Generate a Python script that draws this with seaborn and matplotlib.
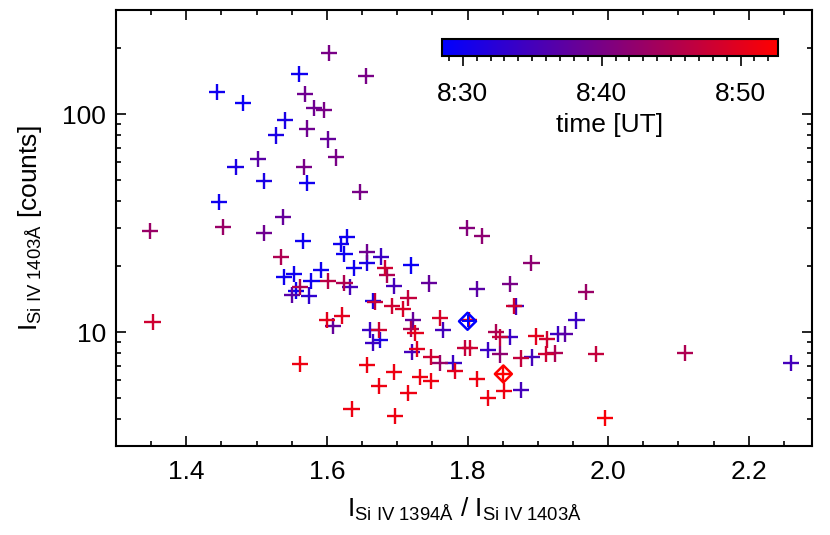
import numpy as np
import pandas as pd
import matplotlib
matplotlib.use('Agg')
import matplotlib.pyplot as plt
import matplotlib.ticker as mticker
from matplotlib.colors import LinearSegmentedColormap, Normalize
from matplotlib.cm import ScalarMappable
import seaborn as sns

# Cociente de lineas Si IV 1394/1403
ratio = [1.603, 1.561, 1.655, 1.444, 1.569, 1.481, 1.582, 1.596, 1.541, 1.572,
         1.527, 1.601, 1.613, 1.502, 1.470, 1.568, 1.510, 1.572, 1.647, 1.447,
         1.538, 1.452, 1.348, 1.511, 1.566, 1.628, 1.620, 1.535, 1.625, 1.657,
         1.677, 1.657, 1.683, 1.638, 1.719, 1.799, 1.821, 1.891, 1.685, 1.591,
         1.539, 1.553, 1.578, 1.601, 1.625, 1.562, 1.633, 1.556, 1.550, 1.575,
         1.695, 1.745, 1.814, 1.861, 1.969, 1.666, 1.669, 1.716, 1.693, 1.708,
         1.866, 1.869, 1.352, 1.600, 1.622, 1.609, 1.723, 1.761, 1.802, 1.955,
         1.939, 1.662, 1.674, 1.665, 1.676, 1.720, 1.726, 1.765, 1.841, 1.846,
         1.861, 1.898, 1.913, 1.929, 1.721, 1.728, 1.748, 1.761, 1.780, 1.782,
         1.797, 1.804, 1.829, 1.846, 1.876, 1.892, 1.912, 1.925, 1.983, 2.109,
         2.260, 1.562, 1.657, 1.695, 1.733, 1.748, 1.813, 1.674, 1.716, 1.852,
         1.876, 1.829, 1.635, 1.697, 1.996, 1.850]

# Intensidad Si IV 1403 [counts]
intensity = [191, 153, 150, 126, 124, 112, 106.5, 104, 93.4, 85.8,
             79.7, 76.4, 63.2, 61.9, 56.9, 56.9, 49.1, 48.1, 43.7, 39.4,
             33.6, 30.4, 29.0, 28.4, 26.2, 27.2, 25.3, 22.0, 22.7, 23.2,
             22.2, 20.7, 19.6, 19.7, 20.2, 29.9, 27.5, 20.7, 18.2, 19.2,
             17.9, 18.4, 17.2, 17.2, 16.8, 16.1, 16.1, 15.5, 14.8, 14.7,
             16.2, 16.7, 15.7, 16.6, 15.2, 13.9, 13.8, 14.3, 13.2, 12.8,
             13.2, 13.1, 11.1, 11.4, 11.9, 10.65, 11.4, 11.6, 11.4, 11.3,
             9.76, 10.2, 10.2, 8.95, 9.19, 10.3, 9.9, 10.2, 10.0, 9.44,
             9.49, 9.54, 9.24, 9.79, 8.13, 8.32, 7.68, 7.21, 7.21, 6.63,
             8.42, 8.42, 8.27, 7.89, 7.56, 7.64, 7.95, 7.97, 7.91, 8.02,
             7.19, 7.14, 7.03, 6.53, 6.22, 5.95, 6.11, 5.66, 5.26, 5.38,
             5.43, 4.96, 4.43, 4.13, 4.04, 6.42]

# Minutos despues de las 8:00 UT
time_min = [40, 30, 40, 30, 39, 29.5, 39, 40, 31, 39,
            31, 38, 40, 37, 31, 40, 31, 30, 40, 30,
            38, 43, 43, 39, 30, 30, 30, 45, 30, 39,
            34, 31, 48, 30, 29.5, 41, 42, 42, 45, 30,
            30, 30, 30, 46, 45, 45, 35, 30, 37, 33,
            35, 38, 37, 40, 43, 31, 47, 47, 48, 49,
            48, 35, 48, 50, 50, 38, 38, 49, 50, 34,
            37, 34, 48, 34, 31, 45, 50, 35, 45, 47,
            34, 50, 48, 34, 35, 50, 48, 43, 34, 50,
            47, 48, 34, 42, 47, 35, 48, 45, 47, 45,
            35, 51, 51, 51, 51, 51, 51, 51, 51, 51,
            35, 51, 51, 51, 52, 51]

# Puntos seleccionados (rombos)
sel_ratio = [1.800, 1.851]
sel_intensity = [11.2, 6.42]
sel_colors = ['#0000ff', '#ff0000']

t_lo, t_hi = 28.5, 52.7
cb_ticks = [30, 40, 50]
cb_labels = ['8:30', '8:40', '8:50']

sns.set_style('ticks')
plt.rcParams['font.family'] = ['Liberation Sans', 'DejaVu Sans']
plt.rcParams['mathtext.fontset'] = 'custom'
plt.rcParams['mathtext.rm'] = 'Liberation Sans'
plt.rcParams['mathtext.it'] = 'Liberation Sans:italic'
plt.rcParams['text.color'] = 'black'
plt.rcParams['axes.labelcolor'] = 'black'
plt.rcParams['xtick.color'] = 'black'
plt.rcParams['ytick.color'] = 'black'
plt.rcParams['axes.edgecolor'] = 'black'

df = pd.DataFrame({'ratio': ratio, 'intensity': intensity, 'time': time_min})
df = df.sort_values('time', kind='stable')

cmap = LinearSegmentedColormap.from_list('blue_red', ['#0000ff', '#ff0000'])

fig = plt.figure(figsize=(8.3, 5.35), dpi=100)
ax = fig.add_axes([116/830, 89/535, 696/830, 436/535])

sns.scatterplot(data=df, x='ratio', y='intensity', hue='time', palette=cmap,
                hue_norm=(t_lo, t_hi), marker='+', s=135, linewidth=1.7,
                legend=False, ax=ax, zorder=2)

ax.scatter(sel_ratio, sel_intensity, marker='D', s=75, facecolors='none',
           edgecolors=sel_colors, linewidths=1.8, zorder=3)
ax.scatter(sel_ratio, sel_intensity, marker='+', s=75, c=sel_colors,
           linewidths=1.4, zorder=3)

ax.set_yscale('log')
ax.set_xlim(1.3, 2.29)
ax.set_ylim(3, 300)
ax.xaxis.set_major_locator(mticker.MultipleLocator(0.2))
ax.xaxis.set_minor_locator(mticker.MultipleLocator(0.05))
ax.xaxis.set_major_formatter(mticker.FormatStrFormatter('%.1f'))
ax.yaxis.set_major_locator(mticker.FixedLocator([10, 100]))
ax.yaxis.set_major_formatter(mticker.FuncFormatter(lambda v, p: f'{v:g}'))
ax.yaxis.set_minor_locator(mticker.LogLocator(base=10, subs=np.arange(2, 10)))
ax.yaxis.set_minor_formatter(mticker.NullFormatter())

ax.tick_params(which='both', direction='in', top=True, right=True,
               width=1.2, color='black', labelcolor='black', labelsize=19)
ax.tick_params(which='major', length=7)
ax.tick_params(which='minor', length=3.5)
ax.tick_params(axis='x', which='major', pad=10)
ax.tick_params(axis='y', which='major', pad=7)
for sp in ax.spines.values():
    sp.set_linewidth(1.5)
    sp.set_color('black')

ax.set_xlabel(r'$\mathrm{I_{Si\ IV\ 1394Å}}$ / $\mathrm{I_{Si\ IV\ 1403Å}}$',
              fontsize=19, color='black')
ax.set_ylabel(r'$\mathrm{I_{Si\ IV\ 1403Å}}$ [counts]', fontsize=19, color='black')
ax.xaxis.set_label_coords(0.5, -0.115)
ax.yaxis.set_label_coords(-0.103, 0.5)

# Barra de color
cax = fig.add_axes([442/830, (535-56)/535, 336/830, 17/535])
sm = ScalarMappable(norm=Normalize(t_lo, t_hi), cmap=cmap)
cb = fig.colorbar(sm, cax=cax, orientation='horizontal')
cb.set_ticks(cb_ticks)
cb.set_ticklabels(cb_labels)
cax.xaxis.set_minor_locator(mticker.MultipleLocator(1))
cax.tick_params(which='both', direction='out', width=1.2, color='black',
                labelcolor='black', labelsize=19, pad=12)
cax.tick_params(which='major', length=7)
cax.tick_params(which='minor', length=3.5)
cb.outline.set_linewidth(1.5)
cb.outline.set_edgecolor('black')
cb.set_label('time [UT]', fontsize=19, labelpad=5, color='black')

fig.savefig('out.png', dpi=100)
